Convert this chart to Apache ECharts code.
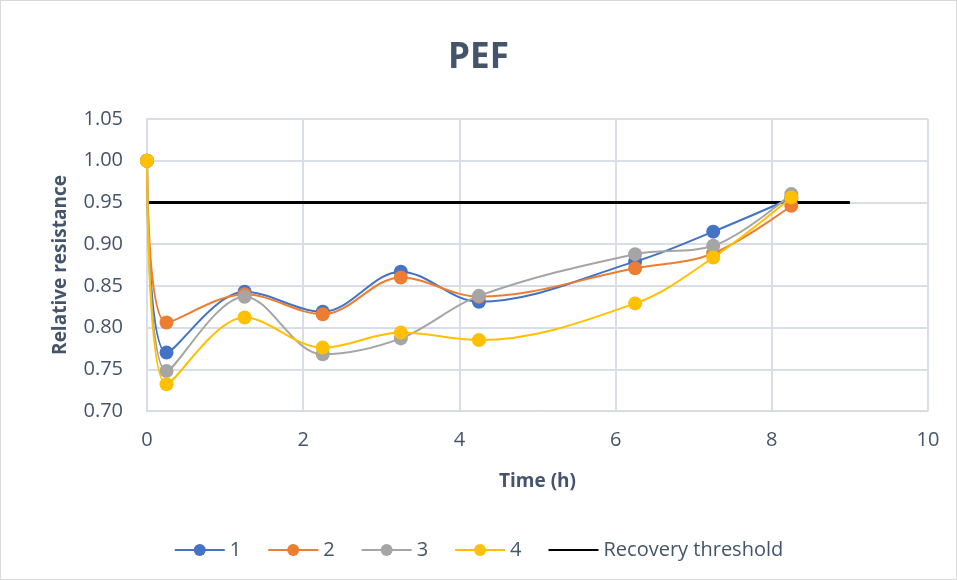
<!DOCTYPE html>
<html>
<head>
<meta charset="utf-8">
<script src="https://cdn.jsdelivr.net/npm/echarts@6/dist/echarts.min.js"></script>
<style>
  html, body { margin: 0; padding: 0; background: #fff; }
  #chart { width: 957px; height: 580px; box-sizing: border-box; border: 1px solid #d9d9d9; }
</style>
</head>
<body>
<div id="chart"></div>
<script>
// time points (h)
var times = [0, 0.25, 1.25, 2.25, 3.25, 4.25, 6.25, 7.25, 8.25];

var s1 = [1.000, 0.770, 0.843, 0.819, 0.867, 0.831, 0.879, 0.915, 0.955];
var s2 = [1.000, 0.806, 0.840, 0.816, 0.860, 0.837, 0.871, 0.889, 0.946];
var s3 = [1.000, 0.748, 0.837, 0.768, 0.787, 0.838, 0.888, 0.898, 0.960];
var s4 = [1.000, 0.732, 0.812, 0.776, 0.794, 0.785, 0.829, 0.884, 0.956];

var seriesNames = ['1', '2', '3', '4'];
var seriesColors = ['#4472C4', '#ED7D31', '#A5A5A5', '#FFC000'];

var thresholdName = 'Recovery threshold';
var thresholdX = [0, 9];
var thresholdY = [0.95, 0.95];

var font = '"Open Sans", sans-serif';
var textColor = '#44546A';

function pairs(xs, ys) {
    var out = [];
    for (var i = 0; i < xs.length; i++) out.push([xs[i], ys[i]]);
    return out;
}

var seriesData = [s1, s2, s3, s4];
var series = [];
for (var k = 0; k < seriesData.length; k++) {
    series.push({
        name: seriesNames[k],
        type: 'line',
        smooth: 0.35,
        symbol: 'circle',
        symbolSize: 14,
        lineStyle: { width: 2, color: seriesColors[k] },
        itemStyle: { color: seriesColors[k] },
        data: pairs(times, seriesData[k]),
        z: 3 + k
    });
}
series.push({
    name: thresholdName,
    type: 'line',
    symbol: 'none',
    lineStyle: { width: 3, color: '#000' },
    itemStyle: { color: '#000' },
    data: pairs(thresholdX, thresholdY),
    z: 2
});

var legendData = seriesNames.slice();
legendData.push({ name: thresholdName, itemStyle: { opacity: 0 } });

var chart = echarts.init(document.getElementById('chart'));
chart.setOption({
    animation: false,
    textStyle: { fontFamily: font },
    title: {
        text: 'PEF',
        left: 'center',
        top: 35,
        textStyle: { fontSize: 35, fontWeight: 'bold', color: textColor, fontFamily: font }
    },
    legend: {
        bottom: 14,
        left: 'center',
        itemWidth: 50,
        itemHeight: 15,
        itemGap: 26,
        textStyle: { fontSize: 20, color: textColor, fontFamily: font },
        data: legendData
    },
    grid: {
        left: 146,
        right: 28,
        top: 118,
        bottom: 168,
        containLabel: false
    },
    xAxis: {
        type: 'value',
        min: 0,
        max: 10,
        interval: 2,
        name: 'Time (h)',
        nameLocation: 'middle',
        nameGap: 61,
        nameTextStyle: { fontSize: 19, fontWeight: 'bold', color: textColor, fontFamily: font },
        axisLine: { show: true, lineStyle: { color: '#d9d9d9' } },
        axisTick: { show: false },
        axisLabel: { fontSize: 20, color: textColor, margin: 19 },
        splitLine: { show: true, lineStyle: { color: '#d9dee6', width: 2 } }
    },
    yAxis: {
        type: 'value',
        min: 0.70,
        max: 1.05,
        interval: 0.05,
        name: 'Relative resistance',
        nameLocation: 'middle',
        nameGap: 77,
        nameTextStyle: { fontSize: 19, fontWeight: 'bold', color: textColor, fontFamily: font },
        axisLine: { show: true, lineStyle: { color: '#d9dee6', width: 2 } },
        axisTick: { show: false },
        axisLabel: {
            fontSize: 20,
            color: textColor,
            margin: 24,
            formatter: function (v) { return v.toFixed(2); }
        },
        splitLine: { show: true, lineStyle: { color: '#d9dee6', width: 2 } }
    },
    series: series
});
</script>
</body>
</html>
